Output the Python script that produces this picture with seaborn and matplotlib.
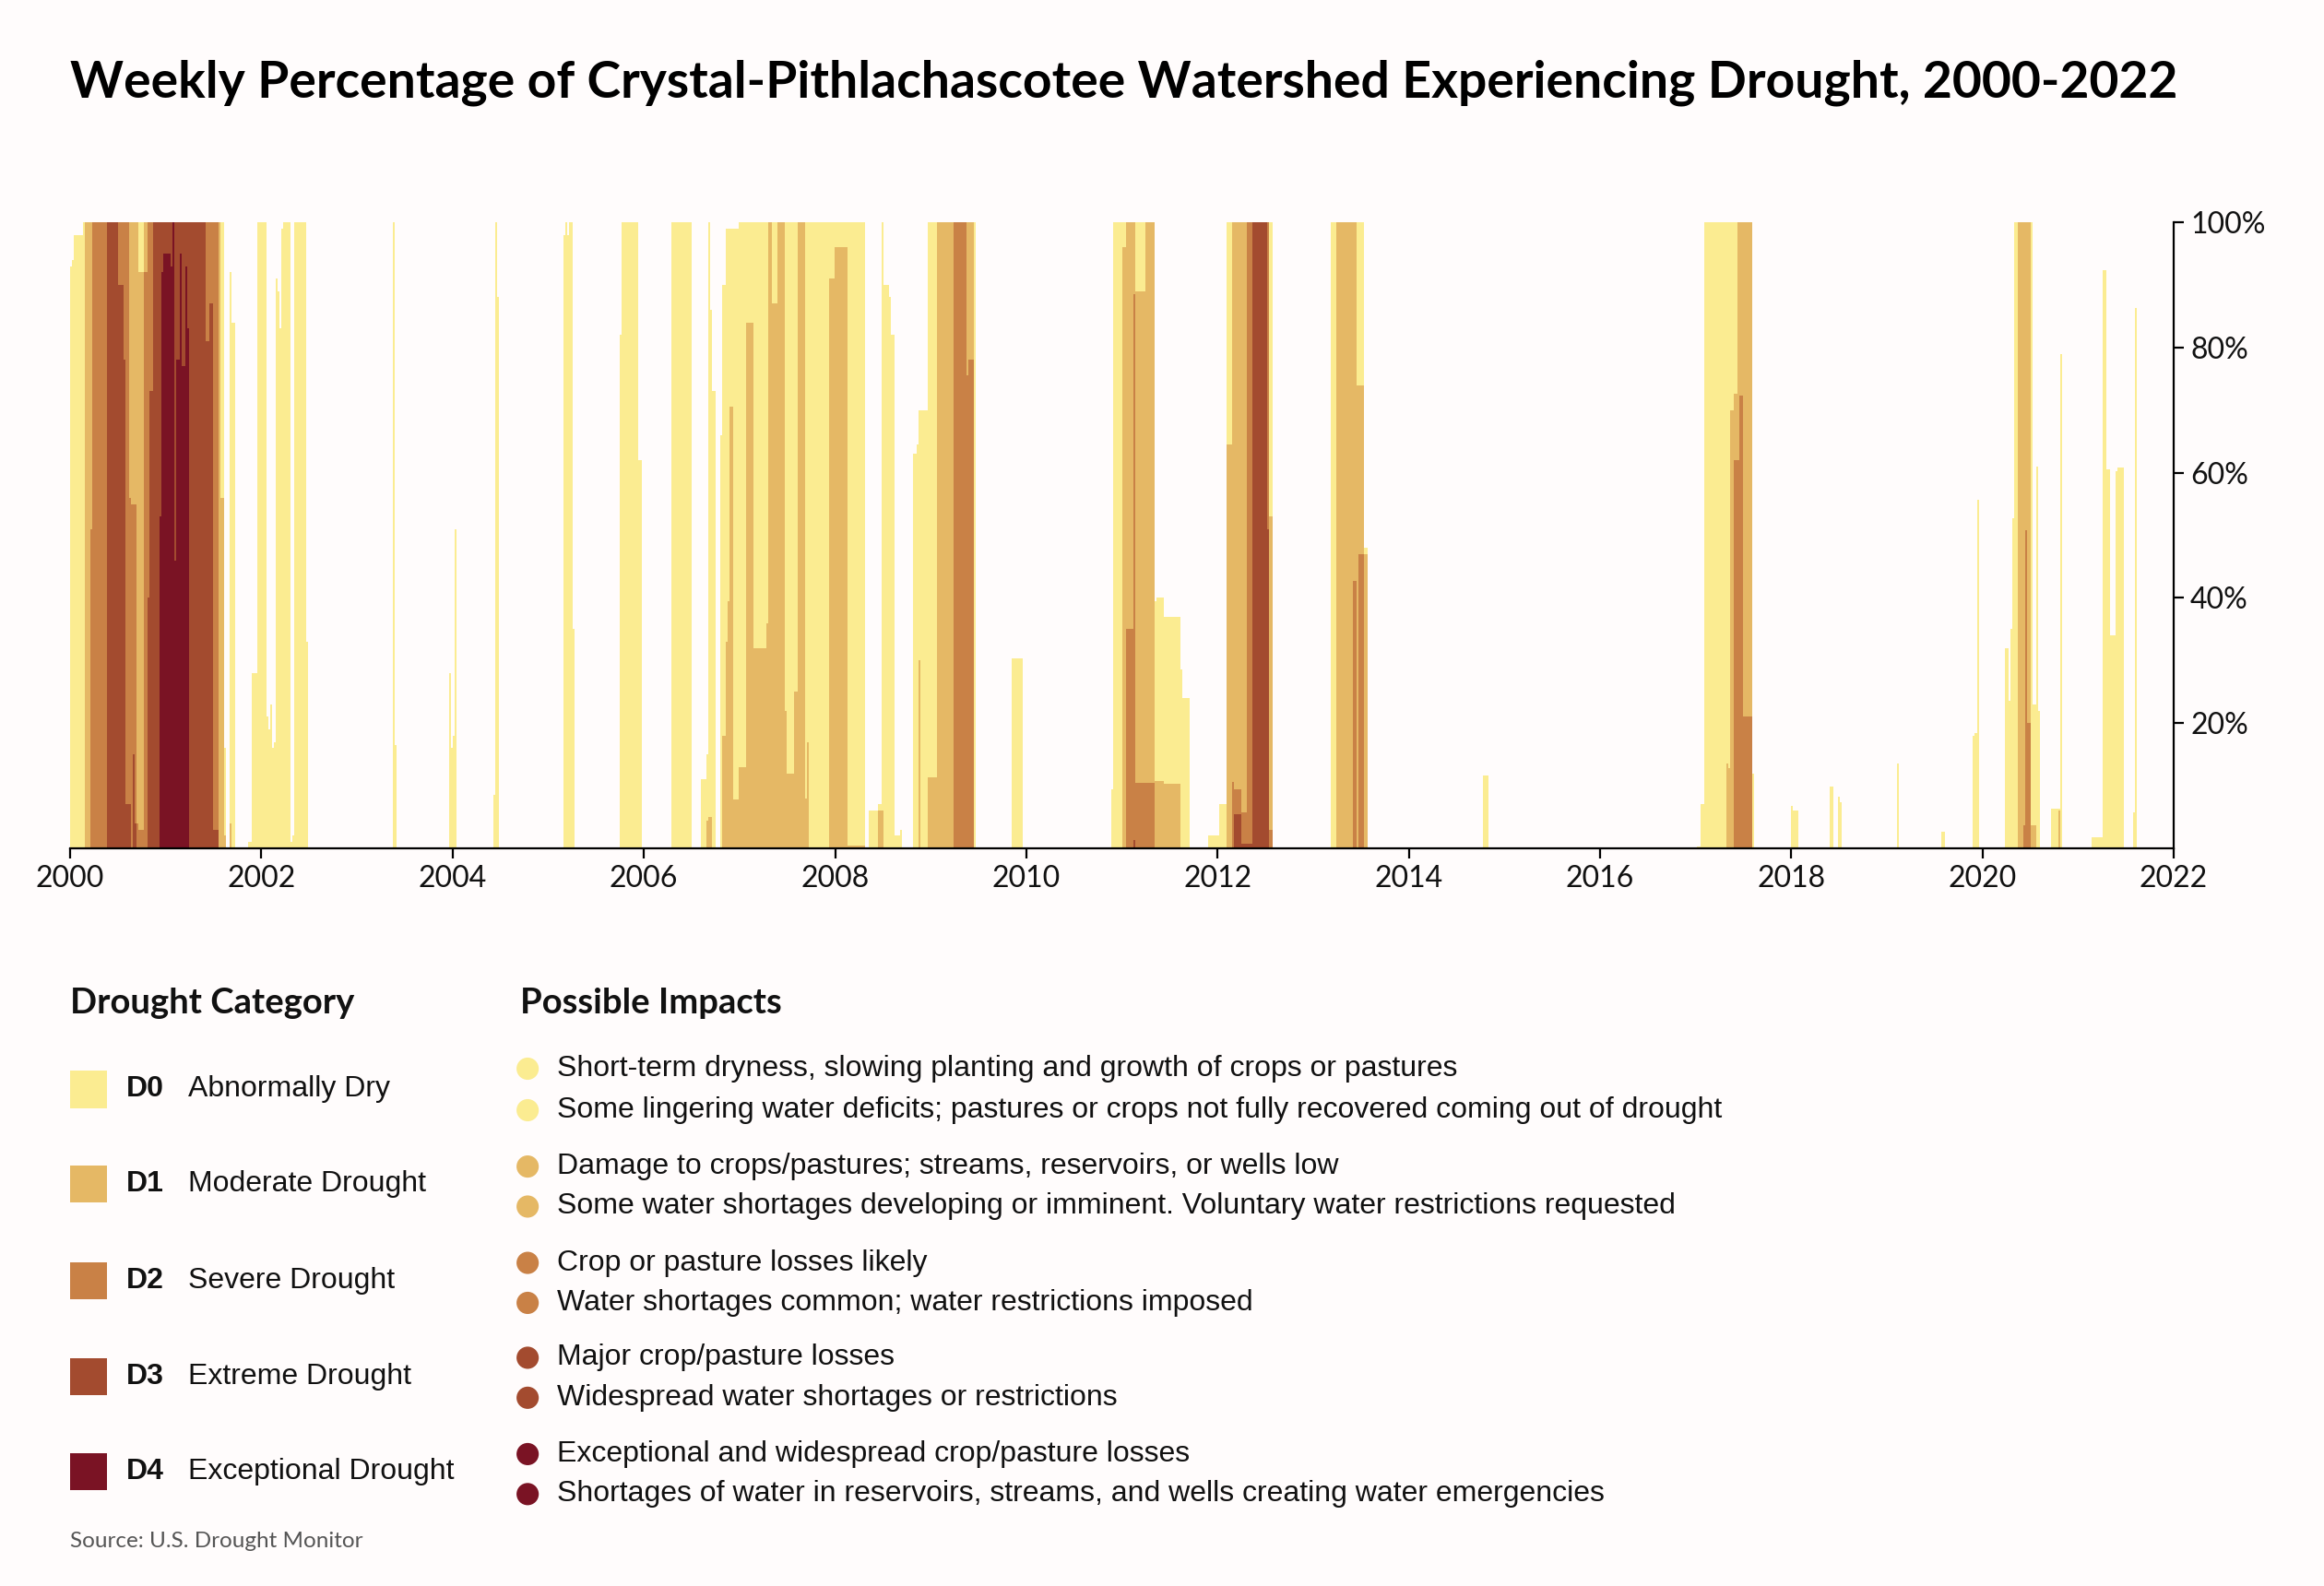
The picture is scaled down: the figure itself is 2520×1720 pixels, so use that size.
import numpy as np
import pandas as pd
import seaborn as sns
import matplotlib.pyplot as plt
from matplotlib.patches import Rectangle, Circle

# Colours and legend text
cat_colors = ["#FBEC91", "#E5B865", "#C98146", "#A34B2F", "#7A1324"]
cat_codes = ["D0", "D1", "D2", "D3", "D4"]
cat_names = ["Abnormally Dry", "Moderate Drought", "Severe Drought",
             "Extreme Drought", "Exceptional Drought"]
impacts = [
    ["Short-term dryness, slowing planting and growth of crops or pastures",
     "Some lingering water deficits; pastures or crops not fully recovered coming out of drought"],
    ["Damage to crops/pastures; streams, reservoirs, or wells low",
     "Some water shortages developing or imminent. Voluntary water restrictions requested"],
    ["Crop or pasture losses likely",
     "Water shortages common; water restrictions imposed"],
    ["Major crop/pasture losses",
     "Widespread water shortages or restrictions"],
    ["Exceptional and widespread crop/pasture losses",
     "Shortages of water in reservoirs, streams, and wells creating water emergencies"],
]

# Drought episodes:
# (start year, end year, % in D0+, D1+, D2+, D3+, D4)
ep_2000 = [
    (2000.000, 2000.016, 93), (2000.016, 2000.032, 94), (2000.032, 2000.135, 98),
    (2000.135, 2000.145, 100), (2000.145, 2000.210, 100, 100),
    (2000.210, 2000.226, 100, 100, 51), (2000.226, 2000.381, 100, 100, 100),
    (2000.381, 2000.500, 100, 100, 100, 100), (2000.500, 2000.555, 100, 100, 100, 90),
    (2000.555, 2000.581, 100, 100, 100, 78), (2000.581, 2000.613, 100, 100, 100, 7),
    (2000.613, 2000.639, 100, 100, 56, 7), (2000.639, 2000.652, 100, 100, 55),
    (2000.652, 2000.671, 100, 100, 55, 15), (2000.671, 2000.694, 100, 100, 55, 4),
    (2000.694, 2000.710, 100, 100, 4), (2000.710, 2000.768, 100, 92, 3),
    (2000.768, 2000.806, 100, 100, 92), (2000.806, 2000.823, 100, 100, 100, 40),
    (2000.823, 2000.865, 100, 100, 100, 73), (2000.865, 2000.945, 100, 100, 100, 100),
    (2000.945, 2000.961, 100, 100, 100, 100, 53), (2000.961, 2000.984, 100, 100, 100, 100, 92),
    (2000.984, 2001.048, 100, 100, 100, 100, 95), (2001.048, 2001.065, 100, 100, 100, 100, 93),
    (2001.065, 2001.097, 100, 100, 100, 100, 100), (2001.097, 2001.116, 100, 100, 100, 100, 46),
    (2001.116, 2001.148, 100, 100, 100, 100, 78), (2001.148, 2001.174, 100, 100, 100, 100, 95),
    (2001.174, 2001.216, 100, 100, 100, 100, 77), (2001.216, 2001.235, 100, 100, 100, 100, 93),
    (2001.235, 2001.252, 100, 100, 100, 100, 83), (2001.252, 2001.426, 100, 100, 100, 100),
    (2001.426, 2001.452, 100, 100, 100, 81), (2001.452, 2001.500, 100, 100, 100, 87),
    (2001.500, 2001.548, 100, 100, 100, 3), (2001.548, 2001.581, 100, 100),
    (2001.581, 2001.606, 100, 56), (2001.606, 2001.629, 16, 2),
    (2001.661, 2001.694, 92, 4), (2001.694, 2001.719, 84),
]
ep_2002 = [
    (2001.855, 2001.903, 1), (2001.903, 2001.952, 28), (2001.952, 2002.048, 100),
    (2002.048, 2002.065, 21), (2002.065, 2002.087, 19), (2002.087, 2002.106, 23),
    (2002.106, 2002.129, 16), (2002.129, 2002.145, 17), (2002.145, 2002.161, 91),
    (2002.161, 2002.187, 89), (2002.187, 2002.210, 83), (2002.210, 2002.226, 99),
    (2002.226, 2002.297, 100), (2002.297, 2002.323, 1), (2002.323, 2002.339, 2),
    (2002.339, 2002.468, 100), (2002.468, 2002.490, 33),
]
ep_2003_2005 = [
    (2003.380, 2003.400, 100), (2003.400, 2003.420, 16.5),
    (2003.960, 2003.980, 28), (2003.980, 2004.000, 16), (2004.000, 2004.020, 18),
    (2004.020, 2004.040, 51), (2004.425, 2004.440, 8.6), (2004.440, 2004.460, 100),
    (2004.460, 2004.480, 88), (2005.160, 2005.180, 98), (2005.180, 2005.200, 100),
    (2005.200, 2005.215, 98), (2005.215, 2005.255, 100), (2005.255, 2005.275, 35),
    (2005.750, 2005.775, 82), (2005.775, 2005.950, 100), (2005.950, 2005.985, 62),
]
ep_2006_2009 = [
    (2006.281, 2006.490, 100), (2006.590, 2006.645, 11), (2006.645, 2006.661, 15, 4.4),
    (2006.661, 2006.680, 100, 5), (2006.680, 2006.699, 86, 5), (2006.699, 2006.741, 73),
    (2006.799, 2006.821, 66), (2006.821, 2006.860, 90, 18), (2006.860, 2006.879, 99, 33),
    (2006.879, 2006.902, 99, 39.5), (2006.902, 2006.940, 99, 70.6),
    (2006.940, 2006.992, 99, 7.8), (2006.992, 2007.072, 100, 13),
    (2007.072, 2007.149, 100, 84), (2007.149, 2007.288, 100, 32),
    (2007.288, 2007.310, 100, 36), (2007.310, 2007.342, 100, 100),
    (2007.342, 2007.400, 100, 87), (2007.400, 2007.481, 100, 100),
    (2007.481, 2007.503, 100, 22), (2007.503, 2007.577, 100, 12),
    (2007.577, 2007.600, 100, 25), (2007.600, 2007.690, 100, 100),
    (2007.690, 2007.712, 100, 8), (2007.712, 2007.731, 100, 17),
    (2007.731, 2007.940, 100), (2007.940, 2007.995, 100, 91),
    (2007.995, 2008.133, 100, 96), (2008.133, 2008.326, 100, 0.5),
    (2008.365, 2008.455, 6), (2008.455, 2008.487, 7, 6), (2008.487, 2008.509, 100, 6),
    (2008.509, 2008.558, 90), (2008.558, 2008.590, 88), (2008.590, 2008.616, 82),
    (2008.616, 2008.680, 2), (2008.680, 2008.693, 3),
    (2008.807, 2008.846, 63), (2008.846, 2008.865, 64.5), (2008.865, 2008.884, 70, 30),
    (2008.884, 2008.968, 70), (2008.968, 2009.064, 100, 11.4),
    (2009.064, 2009.238, 100, 100), (2009.238, 2009.373, 100, 100, 100),
    (2009.373, 2009.392, 100, 100, 75.5), (2009.392, 2009.450, 100, 100, 78),
    (2009.450, 2009.466, 100), (2009.852, 2009.971, 30.4),
]
ep_2011_2014 = [
    (2010.878, 2010.897, 9.5), (2010.897, 2010.993, 100), (2010.993, 2011.048, 100, 96),
    (2011.048, 2011.112, 100, 100, 35), (2011.112, 2011.144, 100, 100, 88.5, 1.4),
    (2011.144, 2011.241, 100, 89, 10.5), (2011.241, 2011.337, 100, 100, 10.5),
    (2011.337, 2011.360, 39.5, 10.8), (2011.360, 2011.450, 40, 10.8),
    (2011.450, 2011.611, 37, 10.3), (2011.611, 2011.630, 28.5), (2011.630, 2011.707, 24),
    (2011.900, 2012.019, 2), (2012.019, 2012.093, 7), (2012.093, 2012.157, 100, 64.5),
    (2012.157, 2012.173, 100, 100, 10.6), (2012.173, 2012.247, 100, 100, 9.5, 5.4),
    (2012.247, 2012.305, 100, 100, 5.7, 0.7), (2012.305, 2012.360, 100, 100, 100, 0.7),
    (2012.360, 2012.511, 100, 100, 100, 100), (2012.511, 2012.543, 100, 100, 100, 51),
    (2012.543, 2012.575, 100, 53, 3),
    (2013.177, 2013.234, 100), (2013.234, 2013.411, 100, 100),
    (2013.411, 2013.450, 100, 100, 42.7), (2013.450, 2013.469, 100, 74),
    (2013.469, 2013.540, 100, 74, 47), (2013.540, 2013.562, 48, 47),
    (2014.784, 2014.842, 11.7),
]
ep_2017_2021 = [
    (2017.027, 2017.059, 0.3), (2017.059, 2017.098, 7), (2017.098, 2017.326, 100),
    (2017.326, 2017.349, 100, 13.5), (2017.349, 2017.371, 100, 12.8),
    (2017.371, 2017.404, 100, 70), (2017.404, 2017.445, 100, 72.6, 62),
    (2017.445, 2017.468, 100, 100, 62), (2017.468, 2017.503, 100, 100, 72.3),
    (2017.503, 2017.584, 100, 100, 21), (2017.584, 2017.600, 100, 16),
    (2017.600, 2017.622, 12), (2018.002, 2018.024, 6.8), (2018.024, 2018.082, 6),
    (2018.394, 2018.433, 9.8), (2018.490, 2018.510, 8.3), (2018.510, 2018.529, 7.4),
    (2019.099, 2019.121, 13.5), (2019.571, 2019.603, 2.6),
    (2019.896, 2019.918, 18), (2019.918, 2019.944, 18.4), (2019.944, 2019.964, 55.7),
    (2020.246, 2020.279, 32), (2020.279, 2020.304, 23.6), (2020.304, 2020.324, 35),
    (2020.324, 2020.343, 52.7), (2020.343, 2020.375, 100), (2020.375, 2020.427, 100, 100),
    (2020.427, 2020.452, 100, 100, 3.7), (2020.452, 2020.472, 100, 100, 50.8),
    (2020.472, 2020.497, 100, 100, 20), (2020.497, 2020.517, 100, 3.7),
    (2020.517, 2020.555, 23, 3.7), (2020.555, 2020.574, 61), (2020.574, 2020.594, 22),
    (2020.722, 2020.790, 6.4), (2020.790, 2020.809, 6.4, 6), (2020.809, 2020.841, 79),
    (2021.134, 2021.262, 1.7), (2021.262, 2021.285, 92.4), (2021.285, 2021.301, 61.5),
    (2021.301, 2021.324, 60.6), (2021.324, 2021.385, 34), (2021.385, 2021.404, 60.3),
    (2021.404, 2021.481, 60.8), (2021.578, 2021.597, 5.7), (2021.597, 2021.616, 86.3),
]
episodes = [ep_2000, ep_2002, ep_2003_2005, ep_2006_2009, ep_2011_2014, ep_2017_2021]

# Expand step segments onto the weekly grid of the Drought Monitor
WEEK = 7 / 365.25
n_weeks = int(22 / WEEK)
week_left = 2000 + np.arange(n_weeks) * WEEK
levels = np.zeros((n_weeks, 5))
for ep in episodes:
    for seg in ep:
        s, e = seg[0], seg[1]
        vals = list(seg[2:]) + [0] * (5 - len(seg[2:]))
        k0 = int(round((s - 2000) / WEEK))
        k1 = max(int(round((e - 2000) / WEEK)), k0 + 1)
        levels[k0:k1] = vals

df = pd.DataFrame(levels, columns=cat_codes)
df["week"] = week_left + WEEK / 2

bg = "#FFFCFC"
ink = "#111111"
sns.set_style("white")
plt.rcParams["font.family"] = ["Lato", "DejaVu Sans"]
plt.rcParams["text.color"] = ink

fig = plt.figure(figsize=(25.2, 17.2), dpi=100, facecolor=bg)
ax = fig.add_axes([0.0302, 0.4651, 0.9051, 0.3948])
ax.set_facecolor(bg)

for code, col in zip(cat_codes, cat_colors):
    sns.histplot(data=df, x="week", weights=code, binwidth=WEEK,
                 binrange=(2000, 2000 + n_weeks * WEEK), color=col,
                 alpha=1, linewidth=0, ax=ax)

ax.set_xlim(2000, 2022)
ax.set_ylim(0, 100)
ax.set_xticks(range(2000, 2023, 2))
ax.set_yticks([20, 40, 60, 80, 100])
ax.set_yticklabels([f"{v}%" for v in [20, 40, 60, 80, 100]])
ax.yaxis.tick_right()
ax.set_xlabel("")
ax.set_ylabel("")
for side in ["left", "top"]:
    ax.spines[side].set_visible(False)
for side in ["right", "bottom"]:
    ax.spines[side].set_visible(True)
    ax.spines[side].set_color("black")
    ax.spines[side].set_linewidth(1.6)
ax.tick_params(axis="both", length=8, width=1.6, color="black",
               labelsize=23, labelcolor=ink, pad=5)
ax.tick_params(axis="x", bottom=True)
ax.tick_params(axis="y", right=True)

fig.text(76 / 2520, 1 - 90 / 1720,
         "Weekly Percentage of Crystal-Pithlachascotee Watershed Experiencing Drought, 2000-2022",
         fontsize=39.8, fontweight="bold", va="center", ha="left", color="black")

# Legend area, drawn in a full-figure overlay (1568 x 1070 units)
lax = fig.add_axes([0, 0, 1, 1])
lax.set_xlim(0, 1568)
lax.set_ylim(1070, 0)
lax.axis("off")
lax.patch.set_alpha(0)

lax.text(47, 677, "Drought Category", fontsize=27.5, fontweight="bold", va="center")
lax.text(351, 677, "Possible Impacts", fontsize=27.5, fontweight="bold", va="center")

sq_y = [735, 799, 864, 929, 993]
dot_y = [(721, 749), (787, 814), (852, 879), (916, 943), (981, 1008)]
for i in range(5):
    lax.add_patch(Rectangle((47, sq_y[i] - 12.5), 25, 25, color=cat_colors[i], lw=0))
    lax.text(85, sq_y[i], cat_codes[i], fontsize=23, fontweight="bold",
             family="Liberation Sans", va="center")
    lax.text(127, sq_y[i], cat_names[i], fontsize=23, family="Liberation Sans", va="center")
    for y, txt in zip(dot_y[i], impacts[i]):
        lax.add_patch(Circle((356, y), 7.5, color=cat_colors[i], lw=0))
        lax.text(376, y, txt, fontsize=23, family="Liberation Sans", va="center")

lax.text(47, 1040, "Source: U.S. Drought Monitor", fontsize=17.5, color="#555555",
         va="center")

fig.savefig("out.png", dpi=100, facecolor=bg)
